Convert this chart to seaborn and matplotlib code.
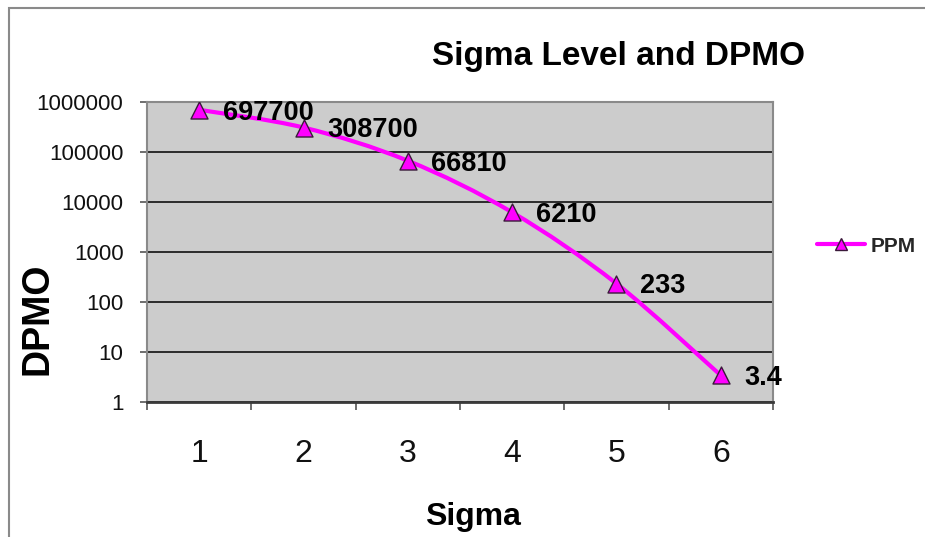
import numpy as np
import pandas as pd
import seaborn as sns
import matplotlib.pyplot as plt
from matplotlib.path import Path
from matplotlib.patches import PathPatch, Rectangle
from matplotlib.lines import Line2D
from matplotlib.ticker import FixedLocator, NullFormatter, FuncFormatter, NullLocator

# Data
sigma_levels = [1, 2, 3, 4, 5, 6]
ppm_values = [697700, 308700, 66810, 6210, 233, 3.4]
ppm_labels = ["697700", "308700", "66810", "6210", "233", "3.4"]
y_ticks = [1, 10, 100, 1000, 10000, 100000, 1000000]

sns.set_theme(style="white")
plt.rcParams["font.family"] = ["Liberation Sans", "DejaVu Sans"]

LINE_COLOR = "#FF00FF"

fig = plt.figure(figsize=(9.25, 5.37), dpi=100)
fig.patch.set_facecolor("white")
ax = fig.add_axes([147 / 925, 1 - 402 / 537, (773 - 147) / 925, (402 - 102) / 537])
ax.set_facecolor("#CCCCCC")

df = pd.DataFrame({"Sigma": sigma_levels, "PPM": ppm_values})

# Smoothed connecting curve (Catmull-Rom style Bezier segments in x / log10(y) space)
xs = np.array(sigma_levels, dtype=float)
ls = np.log10(np.array(ppm_values, dtype=float))
pts = np.column_stack([xs, ls])
ext = np.vstack([pts[0], pts, pts[-1]])
verts = [tuple(pts[0])]
codes = [Path.MOVETO]
for i in range(len(pts) - 1):
    p0, p1, p2, p3 = ext[i], ext[i + 1], ext[i + 2], ext[i + 3]
    c1 = p1 + (p2 - p0) / 6.0
    c2 = p2 - (p3 - p1) / 6.0
    verts += [tuple(c1), tuple(c2), tuple(p2)]
    codes += [Path.CURVE4] * 3
verts = [(vx, 10 ** vy) for vx, vy in verts]
ax.add_patch(PathPatch(Path(verts, codes), facecolor="none", edgecolor=LINE_COLOR,
                       lw=3, zorder=3, capstyle="round", joinstyle="round"))

sns.scatterplot(data=df, x="Sigma", y="PPM", marker="^", s=150, color=LINE_COLOR,
                edgecolor="#3a1a3a", linewidth=1.0, zorder=4, ax=ax, legend=False)

# Value labels
for xv, yv, lab in zip(sigma_levels, ppm_values, ppm_labels):
    ax.annotate(lab, (xv, yv), xytext=(17, -2), textcoords="offset points",
                ha="left", va="center", fontsize=19.5, fontweight="bold", color="black",
                zorder=5, annotation_clip=False)

# Axes scales and ticks
ax.set_yscale("log")
ax.set_ylim(1, 1000000)
ax.set_xlim(0.5, 6.5)
ax.yaxis.set_major_locator(FixedLocator(y_ticks))
ax.yaxis.set_minor_locator(NullLocator())
ax.yaxis.set_major_formatter(FuncFormatter(lambda v, p: f"{v:.0f}"))
ax.tick_params(axis="y", which="major", direction="out", length=5, width=1.2,
               color="#555555", left=True, labelsize=16, pad=12, labelcolor="#111111")

ax.xaxis.set_major_locator(FixedLocator(np.arange(0.5, 7.0, 1.0)))
ax.xaxis.set_major_formatter(NullFormatter())
ax.xaxis.set_minor_locator(FixedLocator(sigma_levels))
ax.xaxis.set_minor_formatter(FuncFormatter(lambda v, p: f"{v:.0f}"))
ax.tick_params(axis="x", which="major", direction="out", length=6, width=1.2,
               color="#555555", bottom=True)
ax.tick_params(axis="x", which="minor", length=0, labelsize=23, pad=27,
               labelcolor="#111111", bottom=True)

ax.grid(True, axis="y", which="major", color="#2b2b2b", lw=1.4)
ax.grid(False, axis="x")
ax.set_xlabel("")
ax.set_ylabel("")

for side in ["top", "right", "left"]:
    ax.spines[side].set_visible(True)
    ax.spines[side].set_color("#8a8a8a")
    ax.spines[side].set_linewidth(1.5)
ax.spines["bottom"].set_color("#3a3a3a")
ax.spines["bottom"].set_linewidth(2)

# Titles
fig.text(619 / 925, 1 - 56 / 537, "Sigma Level and DPMO", ha="center", va="center",
         fontsize=24, fontweight="bold", color="black")
fig.text(473 / 925, 1 - 525 / 537, "Sigma", ha="center", va="baseline",
         fontsize=23, fontweight="bold", color="black")
fig.text(38 / 925, 1 - 319 / 537, "DPMO", ha="center", va="center", rotation=90,
         fontsize=27, fontweight="bold", color="black")

# Legend
handle = Line2D([0], [0], color=LINE_COLOR, lw=3, marker="^", markersize=9,
                markerfacecolor=LINE_COLOR, markeredgecolor="#3a1a3a", markeredgewidth=1.0)
fig.legend([handle], ["PPM"], loc="center left",
           bbox_to_anchor=(817 / 925, 1 - 246 / 537), frameon=False,
           borderpad=0, borderaxespad=0, handlelength=2.3, handletextpad=0.25,
           prop={"weight": "bold", "size": 15})

# Outer chart frame (top and left edges visible)
fig.patches.append(Rectangle((9 / 925, -1.0), 3.0, 2.0 - 8 / 537, transform=fig.transFigure,
                             fill=False, edgecolor="#8a8a8a", lw=1.5, zorder=0))

fig.savefig("out.png", dpi=100, facecolor="white")
